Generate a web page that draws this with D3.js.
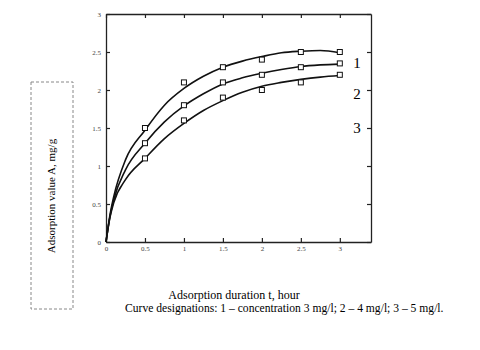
<!DOCTYPE html>
<html>
<head>
<meta charset="utf-8">
<script src="https://cdn.jsdelivr.net/npm/d3@7.9.0/dist/d3.min.js"></script>
<style>
  body { margin: 0; background: #fff; }
  svg { display: block; font-family: "Liberation Serif", "DejaVu Serif", serif; }
</style>
</head>
<body>
<svg id="chart" width="480" height="350"></svg>
<script>
// measured points (t, hour -> A, mg/g)
const hours = [0.5, 1, 1.5, 2, 2.5, 3];
const points1 = [1.5, 2.1, 2.3, 2.4, 2.5, 2.5];
const points2 = [1.3, 1.8, 2.1, 2.2, 2.3, 2.35];
const points3 = [1.1, 1.6, 1.9, 2.0, 2.1, 2.2];

// fitted curves
const curveT = [0, 0.05, 0.1, 0.25, 0.5, 0.75, 1, 1.25, 1.5, 1.75, 2, 2.25, 2.5, 2.75, 3];
const curve1 = [0, 0.35, 0.6, 1.08, 1.47, 1.8, 2.02, 2.18, 2.3, 2.38, 2.44, 2.49, 2.51, 2.52, 2.49];
const curve2 = [0, 0.33, 0.56, 0.95, 1.3, 1.58, 1.79, 1.95, 2.08, 2.16, 2.22, 2.27, 2.31, 2.33, 2.34];
const curve3 = [0, 0.32, 0.52, 0.82, 1.1, 1.36, 1.56, 1.73, 1.86, 1.97, 2.05, 2.1, 2.14, 2.17, 2.19];

const curveNames = ['1', '2', '3'];
const xTicks = [0, 0.5, 1, 1.5, 2, 2.5, 3];
const yTicks = [0, 0.5, 1, 1.5, 2, 2.5, 3];

const svg = d3.select('#chart');
const plotLeft = 106, plotRight = 371, plotTop = 14, plotBottom = 242;

const x = d3.scaleLinear().domain([0, 3.4]).range([plotLeft, plotRight]);
const y = d3.scaleLinear().domain([0, 3]).range([plotBottom, plotTop]);

// frame with inward ticks
const tickLen = 4;
const xAxisG = svg.append('g').attr('transform', `translate(0,${plotBottom})`)
  .call(d3.axisBottom(x).tickValues(xTicks).tickSizeInner(-tickLen).tickSizeOuter(0).tickFormat(d3.format('')));
svg.append('g').attr('transform', `translate(0,${plotTop})`)
  .call(d3.axisTop(x).tickValues(xTicks).tickSizeInner(-tickLen).tickSizeOuter(0).tickFormat(''));
const yAxisG = svg.append('g').attr('transform', `translate(${plotLeft},0)`)
  .call(d3.axisLeft(y).tickValues(yTicks).tickSizeInner(-tickLen).tickSizeOuter(0).tickFormat(d3.format('')));
svg.append('g').attr('transform', `translate(${plotRight},0)`)
  .call(d3.axisRight(y).tickValues(yTicks).tickSizeInner(-tickLen).tickSizeOuter(0).tickFormat(''));

svg.selectAll('.domain').attr('stroke', '#222').attr('stroke-width', 1.3);
svg.selectAll('.tick line').attr('stroke', '#222').attr('stroke-width', 1.2);
svg.selectAll('.tick text')
  .attr('font-family', '"Liberation Serif", serif')
  .attr('font-size', 7)
  .attr('fill', '#444');
// ticks point inward, so keep labels close to the frame
xAxisG.selectAll('.tick text').attr('y', 4);
yAxisG.selectAll('.tick text').attr('x', -5);

// curves
const line = d3.line()
  .x((d) => x(d[0]))
  .y((d) => y(d[1]))
  .curve(d3.curveMonotoneX);

[curve1, curve2, curve3].forEach((c) => {
  svg.append('path')
    .datum(curveT.map((t, i) => [t, c[i]]))
    .attr('d', line)
    .attr('fill', 'none')
    .attr('stroke', '#111')
    .attr('stroke-width', 1.6);
});

// markers
const sq = 5;
[points1, points2, points3].forEach((p) => {
  svg.append('g').selectAll('rect')
    .data(hours.map((t, i) => [t, p[i]]))
    .join('rect')
    .attr('x', (d) => x(d[0]) - sq / 2)
    .attr('y', (d) => y(d[1]) - sq / 2)
    .attr('width', sq)
    .attr('height', sq)
    .attr('fill', '#fff')
    .attr('stroke', '#111')
    .attr('stroke-width', 1);
});

// curve numbers at the right
const labelY = [2.36, 1.95, 1.5];
svg.append('g').selectAll('text')
  .data(curveNames)
  .join('text')
  .attr('x', 357)
  .attr('y', (d, i) => y(labelY[i]) + 5)
  .attr('text-anchor', 'middle')
  .attr('font-size', 15)
  .attr('fill', '#000')
  .text((d) => d);

// y axis title in a dashed box
svg.append('rect')
  .attr('x', 31).attr('y', 82)
  .attr('width', 42).attr('height', 227)
  .attr('fill', 'none')
  .attr('stroke', '#888')
  .attr('stroke-width', 1)
  .attr('stroke-dasharray', '3,2');
svg.append('text')
  .attr('transform', 'translate(55,196) rotate(-90)')
  .attr('text-anchor', 'middle')
  .attr('font-size', 11)
  .attr('fill', '#000')
  .text('Adsorption value A, mg/g');

// x axis title and legend note
svg.append('text')
  .attr('x', 234).attr('y', 299)
  .attr('text-anchor', 'middle')
  .attr('font-size', 12)
  .attr('fill', '#000')
  .text('Adsorption duration t, hour');
svg.append('text')
  .attr('x', 125).attr('y', 312)
  .attr('font-size', 11.6)
  .attr('fill', '#000')
  .text('Curve designations: 1 \u2013 concentration 3 mg/l; 2 \u2013 4 mg/l; 3 \u2013 5 mg/l.');
</script>
</body>
</html>
